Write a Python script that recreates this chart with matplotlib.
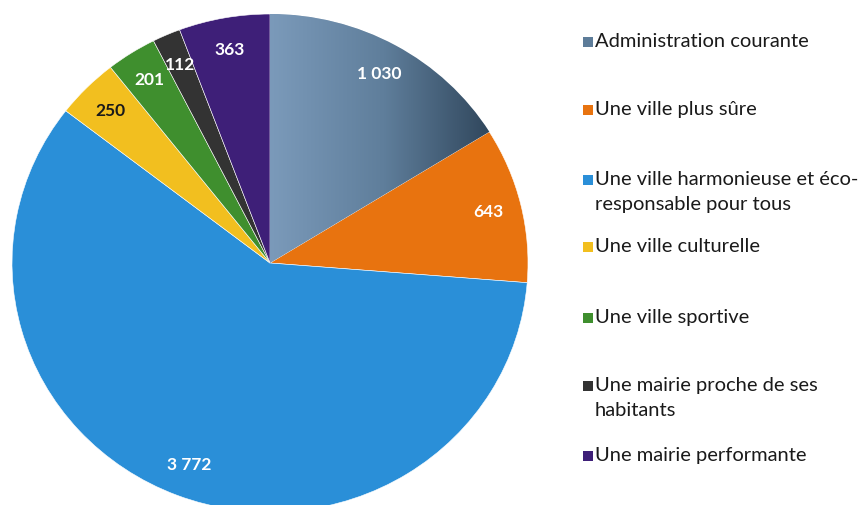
import matplotlib.pyplot as plt
import numpy as np
from matplotlib.colors import LinearSegmentedColormap
from matplotlib.patches import Rectangle

labels = ['Administration courante',
          'Une ville plus sûre',
          'Une ville harmonieuse et éco-\nresponsable pour tous',
          'Une ville culturelle',
          'Une ville sportive',
          'Une mairie proche de ses\nhabitants',
          'Une mairie performante']
values = [1030, 643, 3772, 250, 201, 112, 363]
colors = ['#5d7c99', '#e8730f', '#2a8fd8', '#f2bf1f', '#3f8f2e', '#333333', '#3e1f78']
label_colors = ['white', 'white', 'white', '#1a1a1a', 'white', 'white', 'white']

plt.rcParams['font.family'] = ['Lato', 'DejaVu Sans']

W, H = 868, 505
fig = plt.figure(figsize=(W / 100, H / 100), dpi=100)
ax = fig.add_axes([12 / W, -7 / H, 516 / W, 498 / H])

wedges, _, autotexts = ax.pie(values, colors=colors, startangle=90, counterclock=False,
                              autopct='%1.0f', pctdistance=0.87,
                              wedgeprops=dict(edgecolor='white', linewidth=0.4),
                              textprops=dict(fontsize=12.5, fontweight='bold'))
for t, v, c in zip(autotexts, values, label_colors):
    t.set_text(f'{v:,}'.replace(',', ' '))
    t.set_color(c)
    t.set_zorder(5)

# gradient fill on the first slice
grad = np.linspace(0, 1, 256).reshape(1, -1)
cmap = LinearSegmentedColormap.from_list('adm', ['#7b9aba', '#5f7e9b', '#2d4358'])
im = ax.imshow(grad, cmap=cmap, extent=[0, 0.88, 0, 1], aspect='auto', zorder=2)
im.set_clip_path(wedges[0])

ax.set_aspect('auto')
ax.set_xlim(-1, 1)
ax.set_ylim(-1, 1)
ax.axis('off')

# legend, placed by hand like the original
rows = [42, 110, 180, 247, 318, 386, 456]
for lab, col, y in zip(labels, colors, rows):
    fig.add_artist(Rectangle((583 / W, 1 - (y + 5) / H), 10 / W, 10 / H,
                             transform=fig.transFigure, facecolor=col, edgecolor='none'))
    fig.text(595 / W, 1 - (y - 9) / H, lab, fontsize=14.5, va='top', ha='left',
             color='#1a1a1a', linespacing=1.6)

fig.savefig('out.png', dpi=100)
